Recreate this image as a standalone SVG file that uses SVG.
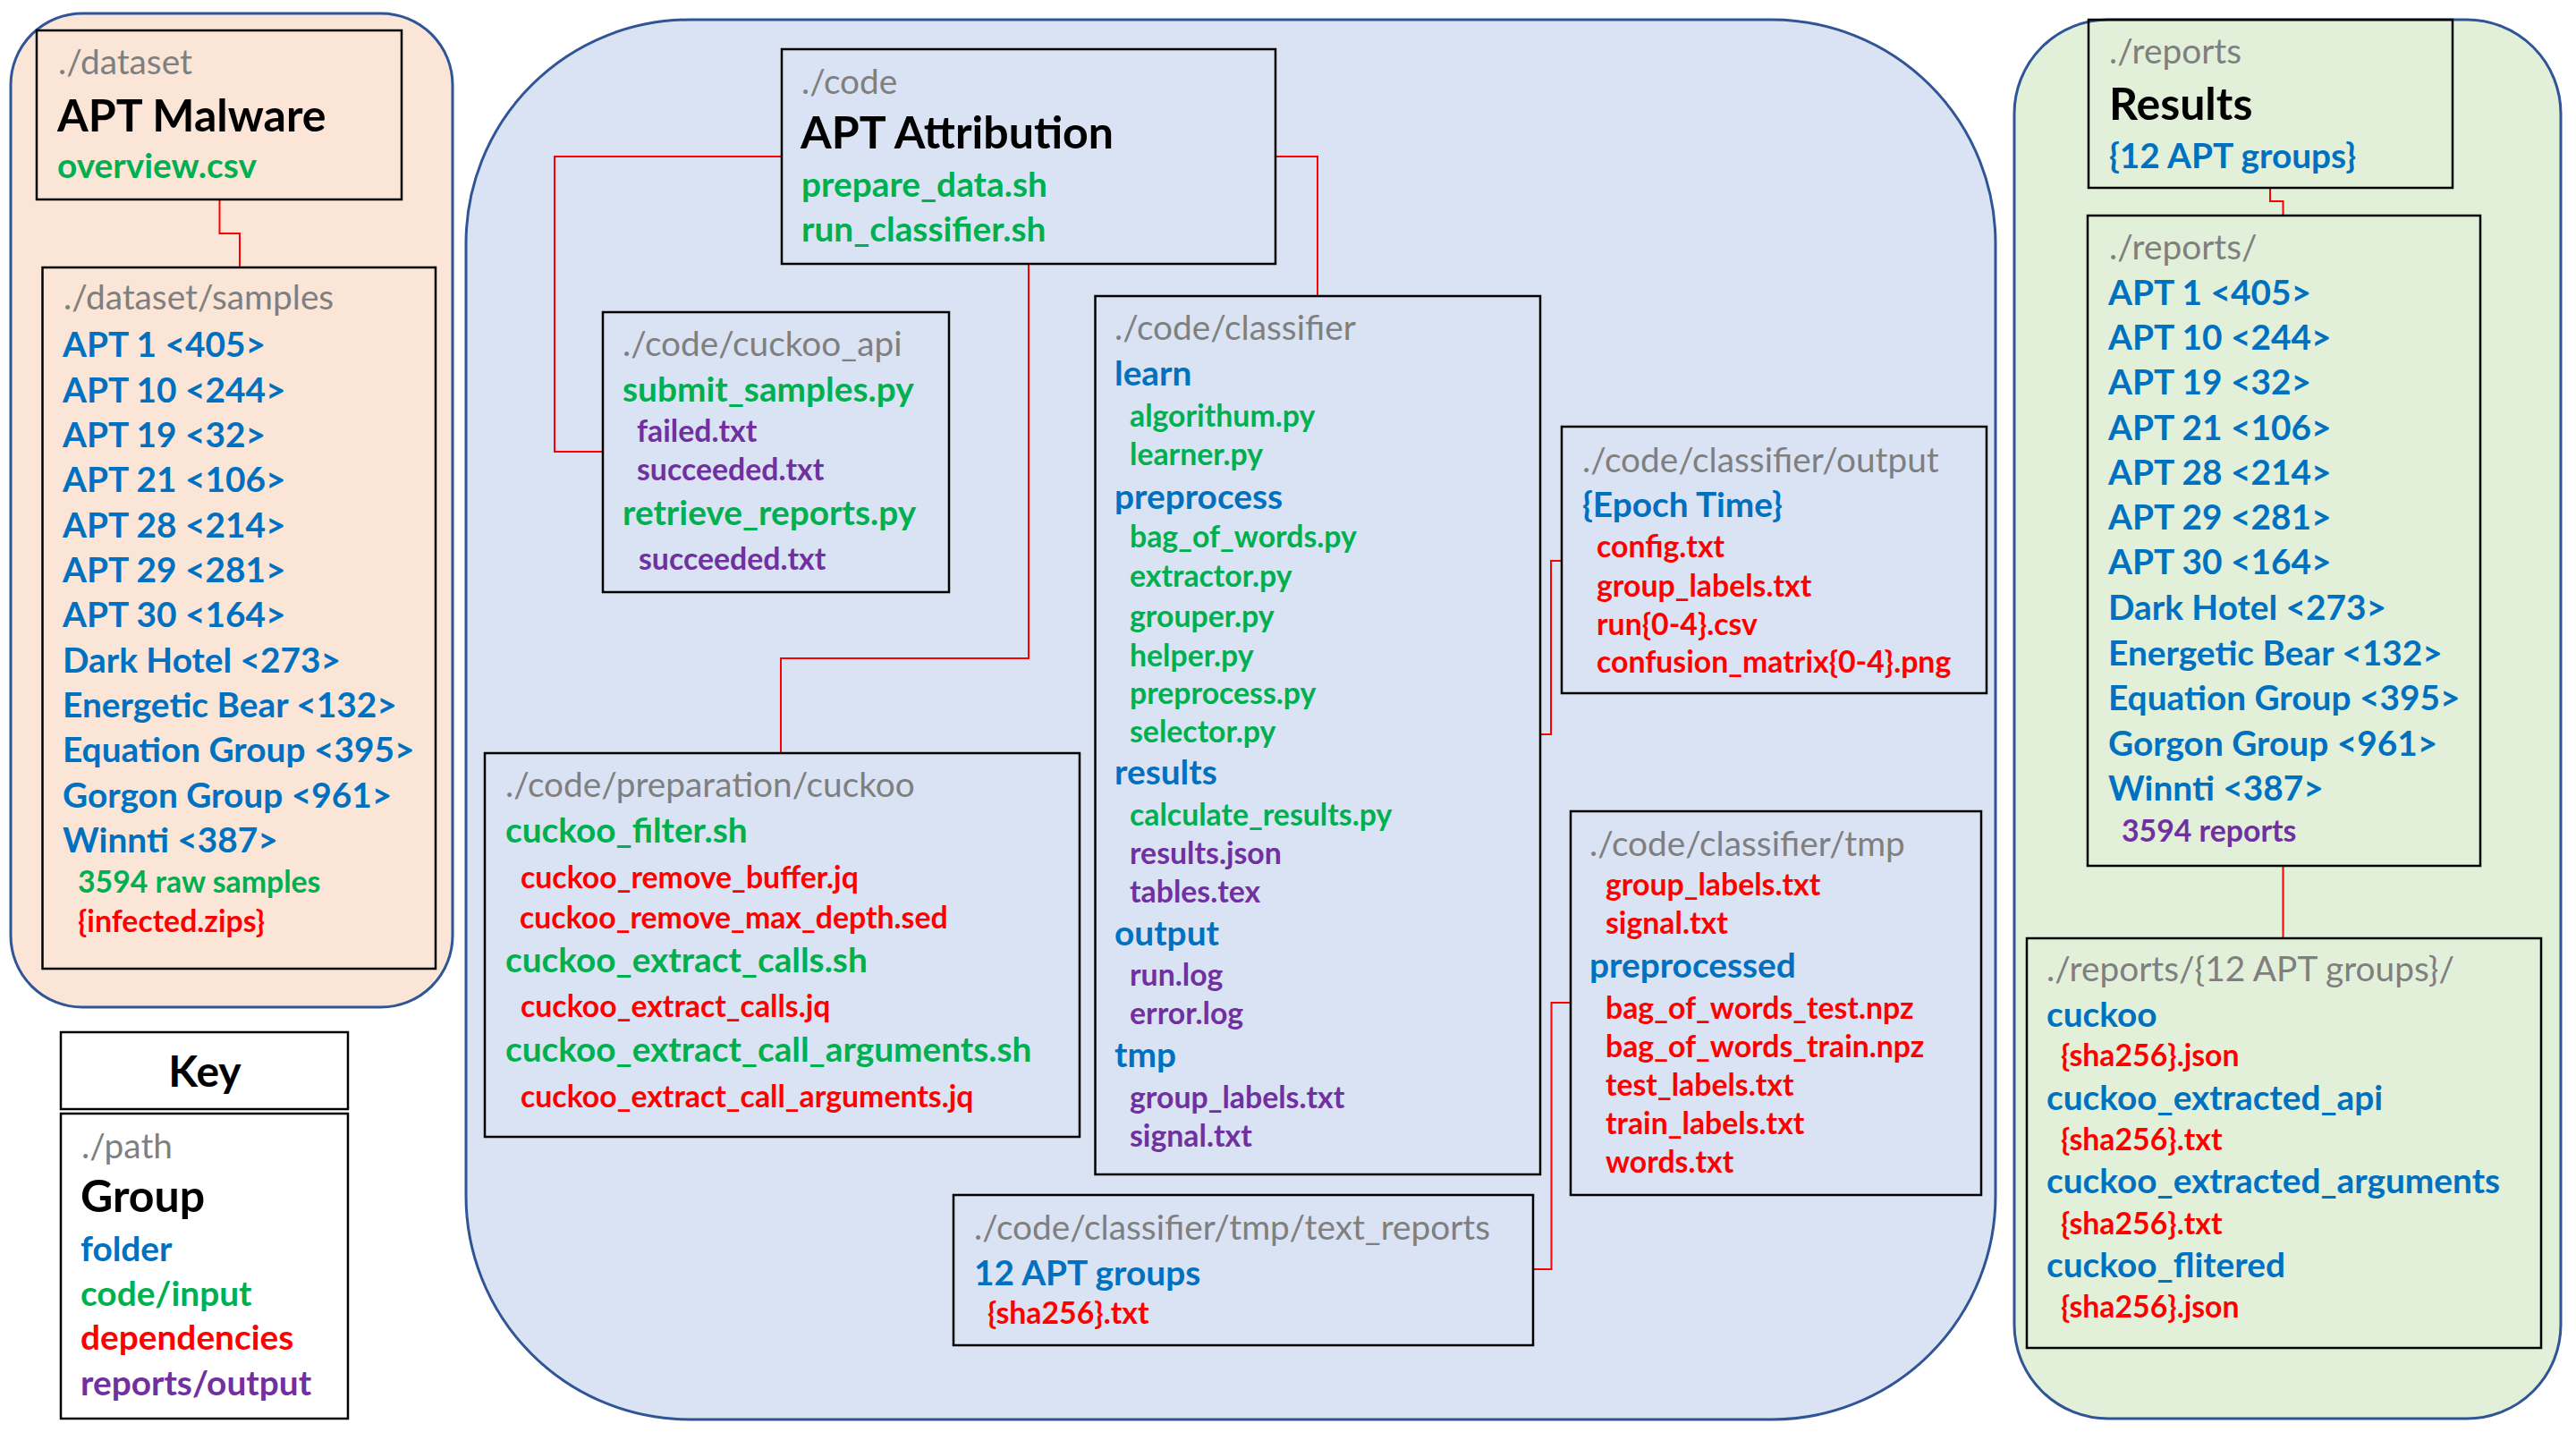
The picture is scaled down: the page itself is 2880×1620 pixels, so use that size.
<svg xmlns="http://www.w3.org/2000/svg" width="2880" height="1620" viewBox="0 0 2880 1620">
<style>
text{font-family:Lato,"Liberation Sans",sans-serif;font-weight:700}
.p{fill:#7F7F7F;font-weight:400;font-size:38.8px}
.t{fill:#000;font-size:50px}
.b{fill:#0070C0;font-size:38.8px}
.g{fill:#00B050;font-size:38.8px}
.gs{fill:#00B050;font-size:33.8px}
.rs{fill:#FF0000;font-size:33.8px}
.r{fill:#FF0000;font-size:38.8px}
.us{fill:#7030A0;font-size:33.8px}
.u{fill:#7030A0;font-size:38.8px}
.region{stroke:#2F5597;stroke-width:3}
.box{fill:none;stroke:#000;stroke-width:2.5}
.conn{fill:none;stroke:#FF0000;stroke-width:2}
</style>
<rect width="2880" height="1620" fill="#fff"/>
<g id="regions">
<rect class="region" x="12" y="15" width="494" height="1111" rx="80" fill="#FBE5D6"/>
<rect class="region" x="521" y="22" width="1710" height="1565" rx="250" fill="#DAE3F3"/>
<rect class="region" x="2252" y="22" width="611" height="1564" rx="105" fill="#E2F0D9"/>
</g>
<g id="connectors">
<path class="conn" d="M245.5,223 V261 H268 V299"/>
<path class="conn" d="M874,175 H620 V505 H674"/>
<path class="conn" d="M1150,295 V736 H873 V842"/>
<path class="conn" d="M1426,175 H1473 V331"/>
<path class="conn" d="M1746,627 H1734 V821 H1722"/>
<path class="conn" d="M1756,1121 H1734.5 V1419 H1714"/>
<path class="conn" d="M2538,210 V225 H2552.5 V241"/>
<path class="conn" d="M2552.5,968 V1049"/>
</g>
<g id="dataset">
<rect class="box" x="41" y="34" width="408" height="189"/>
<text class="p" x="65" y="83">./dataset</text>
<text class="t" x="64" y="147">APT Malware</text>
<text class="g" x="64" y="199">overview.csv</text>
</g>
<g id="dataset-samples">
<rect class="box" x="47.5" y="299" width="439.5" height="784"/>
<text class="p" x="71" y="346">./dataset/samples</text>
<text class="b" x="70" y="399">APT 1 &lt;405&gt;</text>
<text class="b" x="70" y="449.5">APT 10 &lt;244&gt;</text>
<text class="b" x="70" y="500">APT 19 &lt;32&gt;</text>
<text class="b" x="70" y="550">APT 21 &lt;106&gt;</text>
<text class="b" x="70" y="600.5">APT 28 &lt;214&gt;</text>
<text class="b" x="70" y="651">APT 29 &lt;281&gt;</text>
<text class="b" x="70" y="701">APT 30 &lt;164&gt;</text>
<text class="b" x="70" y="751.5">Dark Hotel &lt;273&gt;</text>
<text class="b" x="70" y="802">Energetic Bear &lt;132&gt;</text>
<text class="b" x="70" y="852">Equation Group &lt;395&gt;</text>
<text class="b" x="70" y="902.5">Gorgon Group &lt;961&gt;</text>
<text class="b" x="70" y="953">Winnti &lt;387&gt;</text>
<text class="gs" x="87" y="998">3594 raw samples</text>
<text class="rs" x="87" y="1042">{infected.zips}</text>
</g>
<g id="key">
<rect x="68" y="1154" width="321" height="86" fill="#fff" stroke="#000" stroke-width="2.5"/>
<text class="t" x="229" y="1215" text-anchor="middle" style="font-size:48px">Key</text>
<rect x="68" y="1245" width="321" height="341" fill="#fff" stroke="#000" stroke-width="2.5"/>
<text class="p" x="91" y="1295">./path</text>
<text class="t" x="90" y="1355">Group</text>
<text class="b" x="90" y="1410">folder</text>
<text class="g" x="90" y="1460">code/input</text>
<text class="r" x="90" y="1509">dependencies</text>
<text class="u" x="90" y="1560">reports/output</text>
</g>
<g id="code">
<rect class="box" x="874" y="55" width="552" height="240"/>
<text class="p" x="896" y="105">./code</text>
<text class="t" x="895" y="166">APT Attribution</text>
<text class="g" x="896" y="220">prepare_data.sh</text>
<text class="g" x="896" y="270">run_classifier.sh</text>
</g>
<g id="cuckoo-api">
<rect class="box" x="674" y="349" width="387" height="313"/>
<text class="p" x="696" y="398">./code/cuckoo_api</text>
<text class="g" x="696" y="449">submit_samples.py</text>
<text class="us" x="712" y="494">failed.txt</text>
<text class="us" x="712" y="537">succeeded.txt</text>
<text class="g" x="696" y="587">retrieve_reports.py</text>
<text class="us" x="714" y="637">succeeded.txt</text>
</g>
<g id="preparation">
<rect class="box" x="542" y="842" width="665" height="429"/>
<text class="p" x="565" y="891">./code/preparation/cuckoo</text>
<text class="g" x="565" y="942">cuckoo_filter.sh</text>
<text class="rs" x="582" y="993">cuckoo_remove_buffer.jq</text>
<text class="rs" x="581" y="1038">cuckoo_remove_max_depth.sed</text>
<text class="g" x="565" y="1087">cuckoo_extract_calls.sh</text>
<text class="rs" x="582" y="1137">cuckoo_extract_calls.jq</text>
<text class="g" x="565" y="1187">cuckoo_extract_call_arguments.sh</text>
<text class="rs" x="582" y="1238">cuckoo_extract_call_arguments.jq</text>
</g>
<g id="text-reports">
<rect class="box" x="1066" y="1336" width="648" height="168"/>
<text class="p" x="1089" y="1386">./code/classifier/tmp/text_reports</text>
<text class="b" x="1089" y="1437">12 APT groups</text>
<text class="rs" x="1104" y="1480">{sha256}.txt</text>
</g>
<g id="classifier">
<rect class="box" x="1224.5" y="331" width="497.5" height="982"/>
<text class="p" x="1246" y="380">./code/classifier</text>
<text class="b" x="1246" y="431">learn</text>
<text class="gs" x="1263" y="477">algorithum.py</text>
<text class="gs" x="1263" y="520">learner.py</text>
<text class="b" x="1246" y="569">preprocess</text>
<text class="gs" x="1263" y="612">bag_of_words.py</text>
<text class="gs" x="1263" y="656">extractor.py</text>
<text class="gs" x="1263" y="701">grouper.py</text>
<text class="gs" x="1263" y="744.5">helper.py</text>
<text class="gs" x="1263" y="787">preprocess.py</text>
<text class="gs" x="1263" y="830">selector.py</text>
<text class="b" x="1246" y="877">results</text>
<text class="gs" x="1263" y="923">calculate_results.py</text>
<text class="us" x="1263" y="966">results.json</text>
<text class="us" x="1263" y="1009">tables.tex</text>
<text class="b" x="1246" y="1057">output</text>
<text class="us" x="1263" y="1102">run.log</text>
<text class="us" x="1263" y="1145">error.log</text>
<text class="b" x="1246" y="1193">tmp</text>
<text class="us" x="1263" y="1239">group_labels.txt</text>
<text class="us" x="1263" y="1282">signal.txt</text>
</g>
<g id="classifier-output">
<rect class="box" x="1746" y="477" width="475" height="298"/>
<text class="p" x="1769" y="528">./code/classifier/output</text>
<text class="b" x="1769" y="578">{Epoch Time}</text>
<text class="rs" x="1785" y="623">config.txt</text>
<text class="rs" x="1785" y="667">group_labels.txt</text>
<text class="rs" x="1785" y="710">run{0-4}.csv</text>
<text class="rs" x="1785" y="752">confusion_matrix{0-4}.png</text>
</g>
<g id="classifier-tmp">
<rect class="box" x="1756" y="907" width="459" height="429"/>
<text class="p" x="1777" y="957">./code/classifier/tmp</text>
<text class="rs" x="1795" y="1001">group_labels.txt</text>
<text class="rs" x="1795" y="1044">signal.txt</text>
<text class="b" x="1777" y="1093">preprocessed</text>
<text class="rs" x="1795" y="1139">bag_of_words_test.npz</text>
<text class="rs" x="1795" y="1182">bag_of_words_train.npz</text>
<text class="rs" x="1795" y="1225">test_labels.txt</text>
<text class="rs" x="1795" y="1268">train_labels.txt</text>
<text class="rs" x="1795" y="1311">words.txt</text>
</g>
<g id="reports">
<rect class="box" x="2335" y="22" width="407" height="188"/>
<text class="p" x="2358" y="71">./reports</text>
<text class="t" x="2358" y="134">Results</text>
<text class="b" x="2358" y="188">{12 APT groups}</text>
</g>
<g id="reports-list">
<rect class="box" x="2334" y="241" width="439" height="727"/>
<text class="p" x="2358" y="290">./reports/</text>
<text class="b" x="2357" y="341">APT 1 &lt;405&gt;</text>
<text class="b" x="2357" y="391">APT 10 &lt;244&gt;</text>
<text class="b" x="2357" y="441">APT 19 &lt;32&gt;</text>
<text class="b" x="2357" y="492">APT 21 &lt;106&gt;</text>
<text class="b" x="2357" y="542">APT 28 &lt;214&gt;</text>
<text class="b" x="2357" y="592">APT 29 &lt;281&gt;</text>
<text class="b" x="2357" y="642">APT 30 &lt;164&gt;</text>
<text class="b" x="2357" y="693">Dark Hotel &lt;273&gt;</text>
<text class="b" x="2357" y="743.5">Energetic Bear &lt;132&gt;</text>
<text class="b" x="2357" y="794">Equation Group &lt;395&gt;</text>
<text class="b" x="2357" y="845">Gorgon Group &lt;961&gt;</text>
<text class="b" x="2357" y="895">Winnti &lt;387&gt;</text>
<text class="us" x="2372" y="941">3594 reports</text>
</g>
<g id="reports-groups">
<rect class="box" x="2266" y="1049" width="575" height="458"/>
<text class="p" x="2288" y="1097">./reports/{12 APT groups}/</text>
<text class="b" x="2288" y="1148">cuckoo</text>
<text class="rs" x="2304" y="1191.5">{sha256}.json</text>
<text class="b" x="2288" y="1241">cuckoo_extracted_api</text>
<text class="rs" x="2304" y="1286">{sha256}.txt</text>
<text class="b" x="2288" y="1334">cuckoo_extracted_arguments</text>
<text class="rs" x="2304" y="1380">{sha256}.txt</text>
<text class="b" x="2288" y="1428">cuckoo_flitered</text>
<text class="rs" x="2304" y="1473">{sha256}.json</text>
</g>
</svg>
